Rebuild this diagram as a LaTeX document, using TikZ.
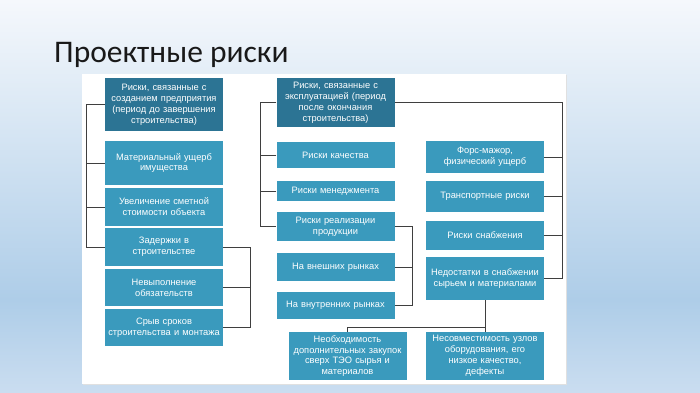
\documentclass[tikz,border=0pt]{standalone}
\usepackage{fontspec}
\setmainfont{Liberation Sans}
\newfontfamily\titlefont{Carlito}
\usetikzlibrary{positioning,calc}

\definecolor{boxdark}{HTML}{2C7494}
\definecolor{boxlight}{HTML}{3A9ABD}
\definecolor{linegray}{HTML}{3F3F3F}
\definecolor{bgtop}{HTML}{F5F8FC}
\definecolor{bgmid}{HTML}{AECDE8}
\definecolor{bgbot}{HTML}{CADDF0}

\tikzset{
  riskbox/.style={fill=boxlight,text=white,align=center,inner sep=1pt,
    text width=116pt,minimum width=118pt,
    font=\fontsize{9.3}{10.9}\selectfont},
  headbox/.style={riskbox,fill=boxdark},
  link/.style={draw=linegray,line width=0.8pt}
}

\begin{document}
\begin{tikzpicture}[x=1pt,y=-1pt]
                  \useasboundingbox (0,0) rectangle (700,392);

                  % Slide background and white panel.
                  \shade[top color=bgtop,bottom color=bgmid] (0,0) rectangle (700,300);
                  \shade[top color=bgmid,bottom color=bgbot] (0,300) rectangle (700,392);
                  \fill[black!12] (83,75) rectangle (567,385);
                  \fill[white] (82,74) rectangle (566,384);

                  \node[anchor=base west,inner sep=0pt,
                      font=\titlefont\fontsize{31.5}{36}\selectfont,text=black!90]
                      (title) at (54,62) {Проектные риски};

                  % Left column: risks of the construction period.
                  \node[headbox,minimum height=53pt] (bA) at (164,104.5)
                      {Риски, связанные с\\созданием предприятия\\(период до завершения\\строительства)};
                  \node[riskbox,minimum height=44pt] (bA1) at (164,163)
                      {Материальный ущерб\\имущества};
                  \node[riskbox,minimum height=38pt] (bA2) at (164,207)
                      {Увеличение сметной\\стоимости объекта};
                  \node[riskbox,minimum height=38pt] (bA3) at (164,247)
                      {Задержки в\\строительстве};
                  \node[riskbox,minimum height=37pt] (bA4) at (164,287.5)
                      {Невыполнение\\обязательств};
                  \node[riskbox,minimum height=37pt] (bA5) at (164,327.5)
                      {Срыв сроков\\строительства и монтажа};

                  % Middle column: risks of the operating period.
                  \node[headbox,minimum height=49pt] (bB) at (335.5,102.5)
                      {Риски, связанные с\\эксплуатацией (период\\после окончания\\строительства)};
                  \node[riskbox,minimum height=26pt] (bB1) at (335.5,155) {Риски качества};
                  \node[riskbox,minimum height=20pt] (bB2) at (335.5,191) {Риски менеджмента};
                  \node[riskbox,minimum height=29pt] (bB3) at (335.5,226.5)
                      {Риски реализации\\продукции};
                  \node[riskbox,minimum height=28pt] (bB4) at (335.5,267) {На внешних рынках};
                  \node[riskbox,minimum height=27pt] (bB5) at (335.5,305.5) {На внутренних рынках};
                  \node[riskbox,minimum height=48pt] (bB6) at (347.5,356)
                      {Необходимость\\дополнительных закупок\\сверх ТЭО сырья и\\материалов};

                  % Right column.
                  \node[riskbox,minimum height=32pt] (bC1) at (485,157)
                      {Форс-мажор,\\физический ущерб};
                  \node[riskbox,minimum height=31pt] (bC2) at (485,196.5) {Транспортные риски};
                  \node[riskbox,minimum height=29pt] (bC3) at (485,235.5) {Риски снабжения};
                  \node[riskbox,minimum height=43pt] (bC4) at (485,278.5)
                      {Недостатки в снабжении\\сырьем и материалами};
                  \node[riskbox,minimum height=48pt] (bC5) at (485,356)
                      {Несовместимость узлов\\оборудования, его\\низкое качество,\\дефекты};

                  % Brackets joining the boxes.
                  \draw[link] (bA.west) -- ++(-18,0) |- (bA3.west);
                  \foreach \n in {bA1,bA2}
                      \draw[link] (\n.west) -- ++(-18,0);

                  \draw[link] (bA3.east) -- ++(27,0) |- (bA5.east);
                  \draw[link] (bA4.east) -- ++(27,0);

                  \draw[link] (bB.west) -- ++(-16,0) |- (bB3.west);
                  \foreach \n in {bB1,bB2}
                      \draw[link] (\n.west) -- ++(-16,0);

                  \draw[link] (bB3.east) -- ++(18,0) |- (bB5.east);
                  \draw[link] (bB4.east) -- ++(18,0);

                  \draw[link] (bB.east) -- ++(168,0) |- (bC4.east);
                  \foreach \n in {bC1,bC2,bC3}
                      \draw[link] (\n.east) -- ++(19,0);

                  \draw[link] (bC4.south) -- (bC5.north);
                  \coordinate (split) at ($(bC4.south)!0.85!(bC5.north)$);
                  \draw[link] (split) -| (bB6.north);
                \end{tikzpicture}
\end{document}
